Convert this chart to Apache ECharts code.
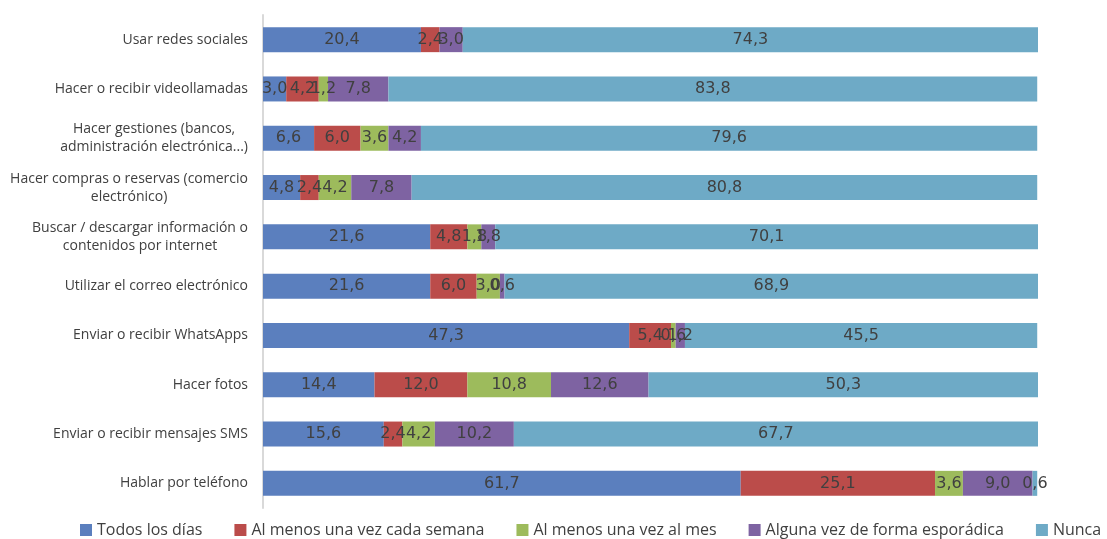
<!DOCTYPE html>
<html><head><meta charset="utf-8">
<script src="https://cdn.jsdelivr.net/npm/echarts@6/dist/echarts.min.js"></script>
<style>html,body{margin:0;padding:0;background:#fff}#c{width:1107px;height:539px}</style>
</head><body><div id="c"></div>
<script>
const categories = [
  "Usar redes sociales",
  "Hacer o recibir videollamadas",
  "Hacer gestiones (bancos,\nadministración electrónica...)",
  "Hacer compras o reservas (comercio\nelectrónico)",
  "Buscar / descargar información o\ncontenidos por internet",
  "Utilizar el correo electrónico",
  "Enviar o recibir WhatsApps",
  "Hacer fotos",
  "Enviar o recibir mensajes SMS",
  "Hablar por teléfono"
];
const seriesNames = ["Todos los días","Al menos una vez cada semana","Al menos una vez al mes","Alguna vez de forma esporádica","Nunca"];
const todosLosDias = [20.4, 3.0, 6.6, 4.8, 21.6, 21.6, 47.3, 14.4, 15.6, 61.7];
const cadaSemana   = [2.4, 4.2, 6.0, 2.4, 4.8, 6.0, 5.4, 12.0, 2.4, 25.1];
const alMes        = [0, 1.2, 3.6, 4.2, 1.8, 3.0, 0.6, 10.8, 4.2, 3.6];
const esporadica   = [3.0, 7.8, 4.2, 7.8, 1.8, 0.6, 1.2, 12.6, 10.2, 9.0];
const nunca        = [74.3, 83.8, 79.6, 80.8, 70.1, 68.9, 45.5, 50.3, 67.7, 0.6];
const values = [todosLosDias, cadaSemana, alMes, esporadica, nunca];
const colors = ["#5b7fbe","#bb4c4a","#9dbb5c","#7e63a2","#6eaac6"];

const chart = echarts.init(document.getElementById('c'));
chart.setOption({
  animation:false,
  color:colors,
  grid:{left:263,right:69,top:15,bottom:31,containLabel:false},
  xAxis:{type:'value',min:0,max:100.1,show:false},
  yAxis:{type:'category',data:categories,inverse:true,
    axisLine:{show:true,lineStyle:{color:'#d9d9d9',width:2}},
    axisTick:{show:false},
    axisLabel:{margin:15,color:'#404040',fontFamily:'Open Sans',fontSize:14,lineHeight:18,
      formatter:v=>v.split('\n').map(l=>'{c|'+l+'}').join('\n'),
      rich:{c:{align:'center',color:'#404040',fontFamily:'Open Sans',fontSize:14,lineHeight:18}}}
  },
  legend:{top:517,left:75,width:1032,padding:[5,0,5,5],itemWidth:12,itemHeight:12,itemGap:32,icon:'rect',
    textStyle:{color:'#404040',fontFamily:'Open Sans',fontSize:16}},
  series:seriesNames.map((n,i)=>({
    name:n,type:'bar',stack:'t',barWidth:25,
    data:values[i],
    label:{show:true,position:'inside',color:'#404040',fontFamily:'DejaVu Sans',fontSize:16,
      formatter:p=>p.value? String(p.value.toFixed(1)).replace('.',','):''}
  }))
});
</script></body></html>
